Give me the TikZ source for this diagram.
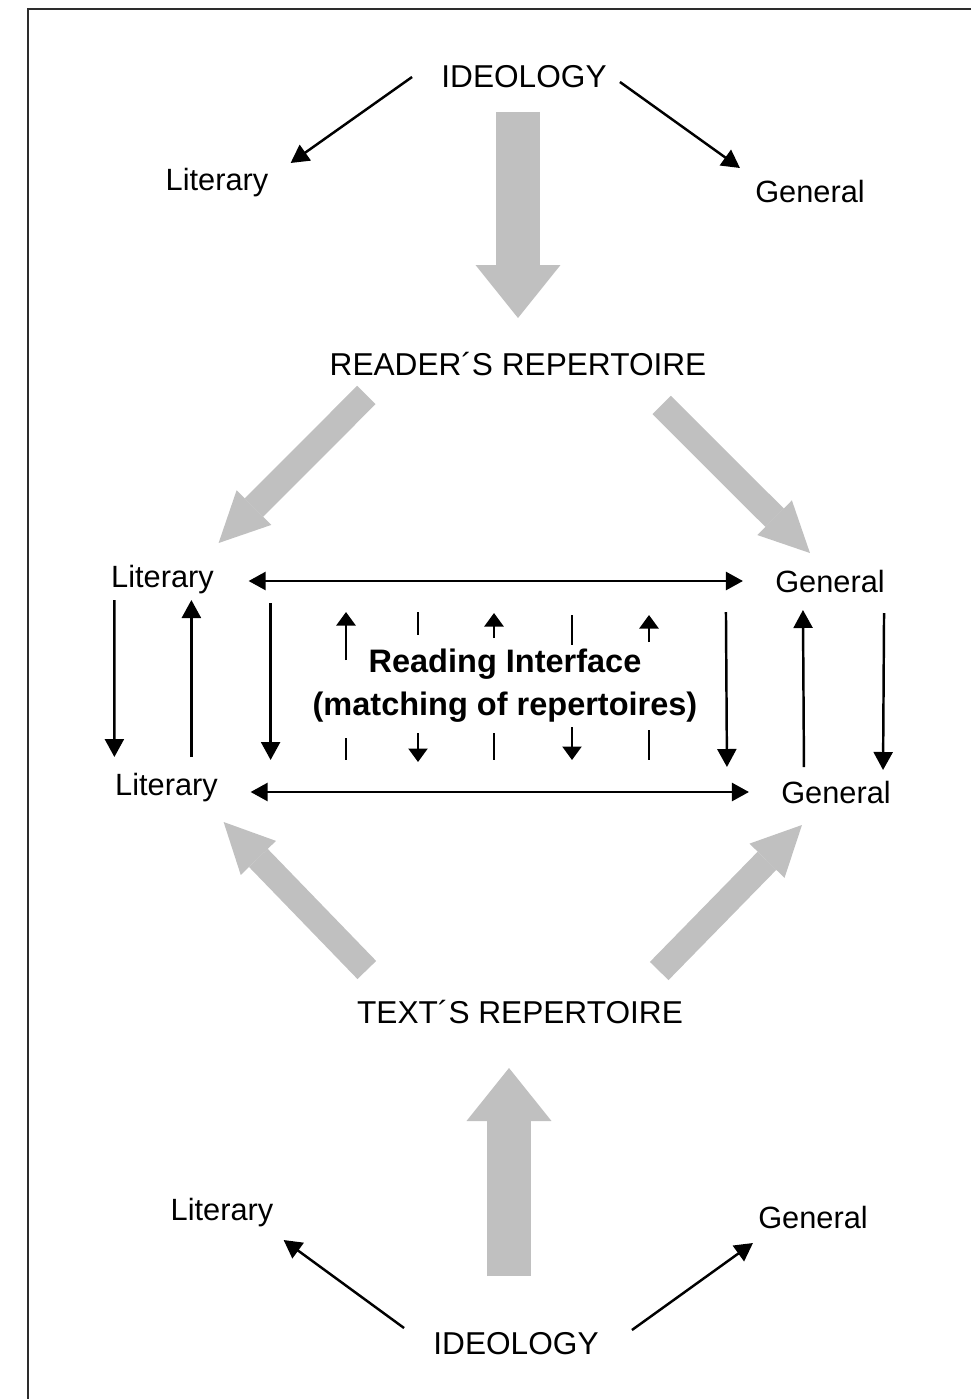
\documentclass[tikz,border=0pt]{standalone}
\usepackage{fontspec}
\setmainfont{Liberation Sans}
\usepackage{xcolor}
\usepackage{tikz}
\usetikzlibrary{arrows.meta,calc}

\definecolor{blockgray}{RGB}{192,192,192}
\definecolor{framegray}{RGB}{45,45,45}

\tikzset{
  caplabel/.style={inner sep=0pt,anchor=base,font=\fontsize{18}{22}\selectfont},
  sidelabel/.style={inner sep=0pt,anchor=base,font=\fontsize{17.5}{21}\selectfont},
  thinarrow/.style={line width=1.4pt,-{Triangle[length=0.36cm,width=0.38cm]}},
  tickarrow/.style={line width=1.4pt,-{Triangle[length=0.27cm,width=0.38cm]}},
  thinboth/.style={line width=1.4pt,{Triangle[length=0.34cm,width=0.36cm]}-{Triangle[length=0.34cm,width=0.36cm]}},
  blockarrow/.style={draw=blockgray,line width=0.88cm,-{Triangle[length=1.06cm,width=1.7cm,line width=0pt 0 0]}},
  blockdiag/.style={draw=blockgray,line width=0.52cm,-{Triangle[length=1cm,width=0.98cm,line width=0pt 0 0]}},
}

\begin{document}
\begin{tikzpicture}[x=0.02cm,y=-0.02cm]

    \useasboundingbox (0,0) rectangle (971,1399);
    \fill[white] (0,0) rectangle (971,1399);
    \draw[line width=1.7pt,framegray] (971,9) -- (28,9) -- (28,1399);
          % only the top and left edges of the frame are in view

    % upper half: ideology feeding the reader
    \node[caplabel] (ideoT) at (524,88) {IDEOLOGY};
    \node[sidelabel] (lit0) at (217,190) {Literary};
    \node[sidelabel] (gen0) at (810,202) {General};
    \node[caplabel] (reader) at (518,375) {READER´S REPERTOIRE};

    % the two rows of the interface
    \node[sidelabel] (lit1) at (162.5,587) {Literary};
    \node[sidelabel] (gen1) at (830,592) {General};
    \node[sidelabel] (lit2) at (166.5,795) {Literary};
    \node[sidelabel] (gen2) at (836,803) {General};
    \node[inner sep=0pt,anchor=north,align=center,
          font=\bfseries\fontsize{18.5}{24}\selectfont] (iface) at (505,649)
          {Reading Interface\\(matching of repertoires)};

    % lower half: ideology feeding the text
    \node[caplabel] (textB) at (520,1023) {TEXT´S REPERTOIRE};
    \node[sidelabel] (lit3) at (222,1220) {Literary};
    \node[sidelabel] (gen3) at (813,1228) {General};
    \node[caplabel] (ideoB) at (516,1354) {IDEOLOGY};

    % thin arrows out of the two ideologies
    \draw[thinarrow] ($(ideoT.base west)+(-29,-11)$) -- ($(lit0.base east)+(22,-27)$);
    \draw[thinarrow] ($(ideoT.base east)+(13,-6)$) -- ($(gen0.base west)+(-15,-34)$);
    \draw[thinarrow] ($(ideoB.base west)+(-29,-26)$) -- ($(lit3.base east)+(10,20)$);
    \draw[thinarrow] ($(ideoB.base east)+(33,-24)$) -- ($(gen3.base west)+(-5,15)$);

    % grey block arrows
    \draw[blockarrow] ($(ideoT.base)+(-6,24)$) -- ($(reader.base)+(0,-57)$);
    \draw[blockdiag] ($(reader.base west)+(37,20)$) -- ($(lit1.base east)+(4.5,-44)$);
    \draw[blockdiag] ($(reader.base east)+(-45,30)$) -- ($(gen1.base west)+(35,-39)$);
    \draw[blockdiag] ($(textB.base west)+(10,-53)$) -- ($(lit2.base east)+(5.5,27)$);
    \draw[blockdiag] ($(textB.base east)+(-24,-52)$) -- ($(gen2.base west)+(21,22)$);
    \draw[blockarrow] ($(ideoB.base)+(-7,-78)$) -- ($(textB.base)+(-11,45)$);

    % horizontal links between the repertoires
    \draw[thinboth] ($(lit1.base east)+(34.5,-6)$) -- ($(gen1.base west)+(-32,-11)$);
    \draw[thinboth] ($(lit2.base east)+(32.5,-3)$) -- ($(gen2.base west)+(-32,-11)$);

    % vertical links on both sides
    \draw[thinarrow] ($(lit1.base west)+(3.5,13)$) -- ($(lit2.base west)+(-0.5,-38)$);
    \draw[thinarrow] ($(lit2.base west)+(76.5,-38)$) -- ($(lit1.base west)+(80.5,13)$);
    \draw[thinarrow] ($(lit1.base east)+(56.5,16)$) -- ($(lit2.base east)+(52.5,-35)$);
    \draw[thinarrow] ($(gen1.base west)+(-49,20)$) -- ($(gen2.base west)+(-54,-36)$);
    \draw[thinarrow] ($(gen2.base west)+(23,-36)$) -- ($(gen1.base west)+(28,18)$);
    \draw[thinarrow] ($(gen1.base east)+(-1,21)$) -- ($(gen2.base east)+(-8,-33)$);

    % small marks round the interface text
    \foreach \x/\ya/\yb in {346/660/612, 494/638/613, 649/642/615, 418/733/762, 572/727/760}{
      \draw[tickarrow] (\x,\ya) -- (\x,\yb);
    }
    \foreach \x/\ya/\yb in {418/612/635, 572/615/645, 346/738/760, 494/733/760, 649/730/760}{
      \draw[line width=1.4pt] (\x,\ya) -- (\x,\yb);
    }

\end{tikzpicture}
\end{document}
